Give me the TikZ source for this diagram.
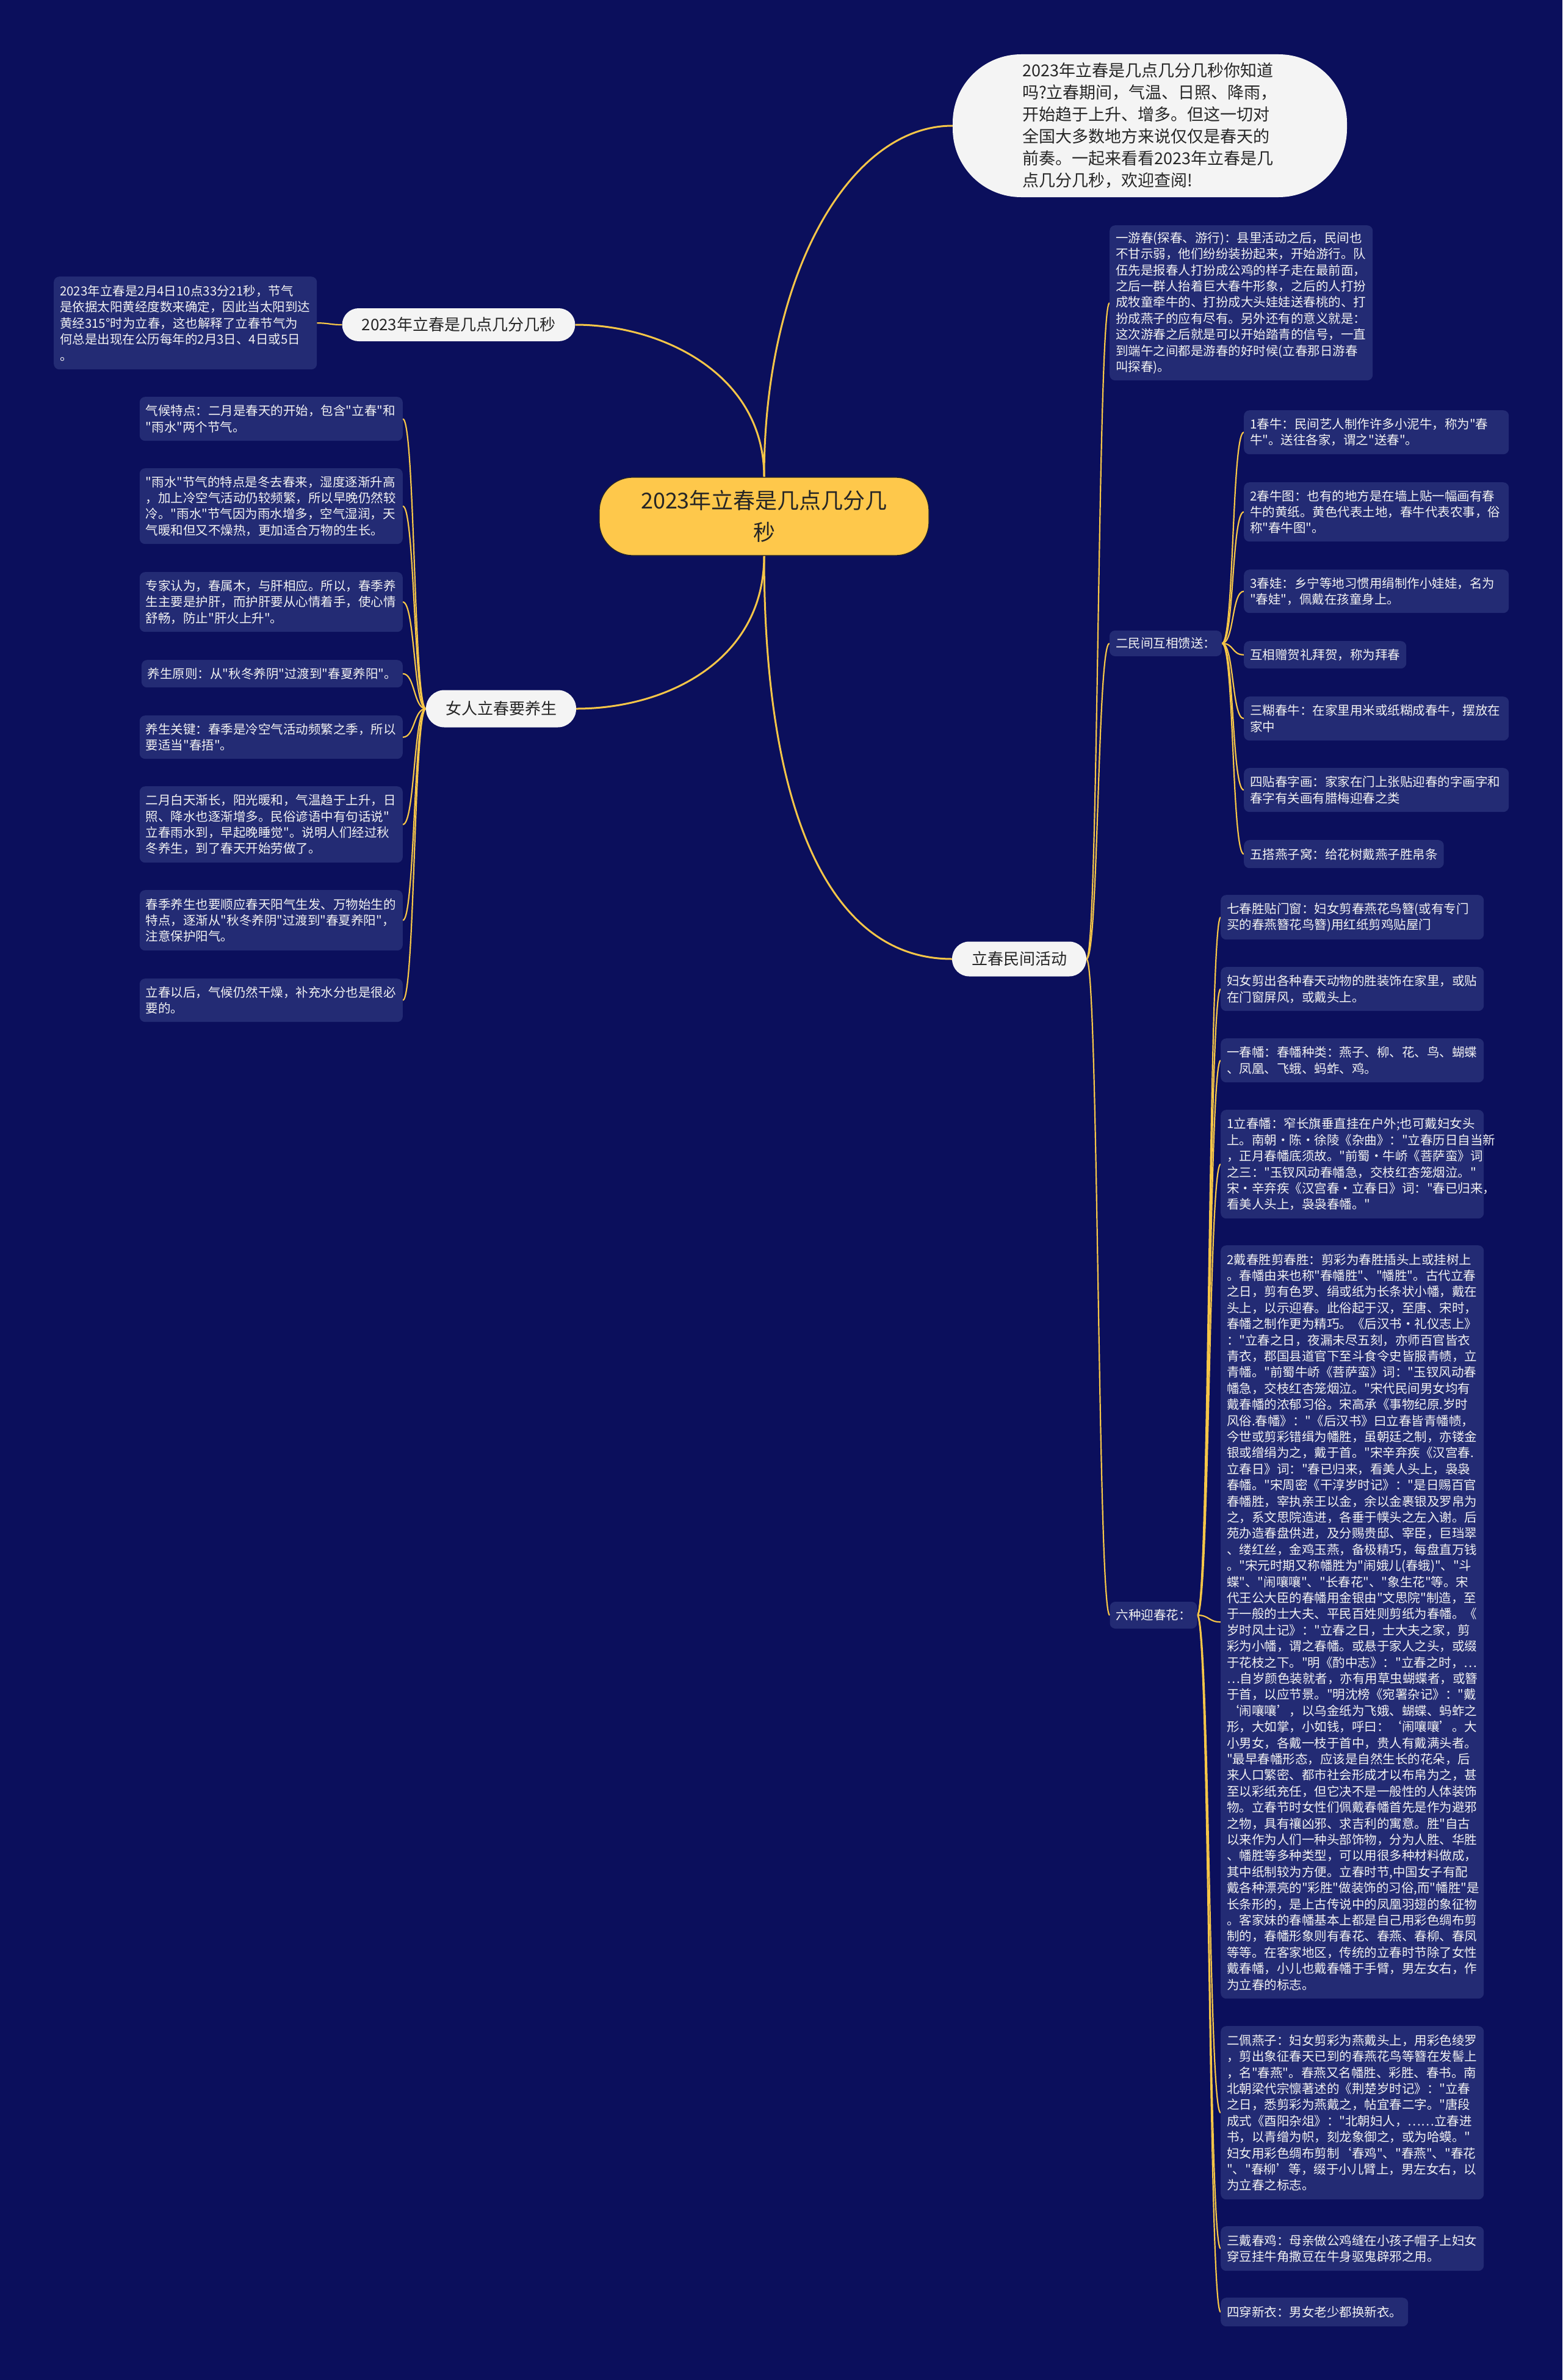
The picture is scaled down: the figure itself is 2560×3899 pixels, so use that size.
\documentclass[tikz,border=0pt]{standalone}
\usepackage{fontspec}
\setmainfont{Noto Sans CJK SC}[Ligatures=TeXOff]
\usepackage{tikz}
\usetikzlibrary{backgrounds}
\definecolor{night}{HTML}{0B0F5C}
\definecolor{slate}{HTML}{232B74}
\definecolor{gold} {HTML}{F6C648}
\definecolor{sun}  {HTML}{FEC84B}
\definecolor{pearl}{HTML}{F4F4F4}
\definecolor{coal} {HTML}{262626}
\definecolor{snow} {HTML}{F2F2F2}
\tikzset{
  leaf/.style={fill=slate,text=snow,rounded corners=9pt,inner xsep=10pt,inner ysep=0pt,
               align=left,font=\fontsize{20.5}{26.4}\selectfont},
  pill/.style={fill=pearl,text=coal,rounded corners=27pt,inner xsep=32pt,inner ysep=0pt,
               font=\fontsize{26}{32}\selectfont},
  link/.style={draw=gold,line width=2.2pt},
  trunk/.style={draw=gold,line width=3pt},
  growr/.style={to path={.. controls +(#1,0) and +(-#1,0) .. (\tikztotarget)}},
  growr/.default=20,
  growl/.style={to path={.. controls +(-#1,0) and +(#1,0) .. (\tikztotarget)}},
  growl/.default=20,
}
\begin{document}
\begin{tikzpicture}[x=1pt,y=-1pt]
  \useasboundingbox (0,0) rectangle (2560,3899);

  % centre and main branches
  \node[fill=sun,draw=coal,line width=1.2pt,text=coal,rounded corners=55pt,
        minimum width=540pt,minimum height=128pt,align=center,
        font=\fontsize{36}{52}\selectfont] (ctr) at (1252,846)
    {2023年立春是几点几分几\\秒};
  \node[fill=pearl,text=coal,rounded corners=112pt,minimum width=646pt,minimum height=234pt,
        align=left,font=\fontsize{27}{36}\selectfont] (intro) at (1884,206)
    {2023年立春是几点几分几秒你知道\\
     吗?立春期间，气温、日照、降雨，\\
     开始趋于上升、增多。但这一切对\\
     全国大多数地方来说仅仅是春天的\\
     前奏。一起来看看2023年立春是几\\
     点几分几秒，欢迎查阅!};
  \node[pill,minimum height=54pt] (q1) at (751.5,532) {2023年立春是几点几分几秒};
  \node[pill,minimum height=61pt,rounded corners=30pt] (women) at (821,1161) {女人立春要养生};
  \node[pill,minimum height=57pt,rounded corners=28pt] (act) at (1670,1571) {立春民间活动};

  \node[leaf,anchor=north west,text width=411pt,minimum height=152pt] (info) at (88,453)
    {2023年立春是2月4日10点33分21秒，节气\\
     是依据太阳黄经度数来确定，因此当太阳到达\\
     黄经315°时为立春，这也解释了立春节气为\\
     何总是出现在公历每年的2月3日、4日或5日\\
     。};

  % left branch
  \node[leaf,anchor=north east,text width=411pt,minimum height=72pt] (e1) at (660,650)
    {气候特点：二月是春天的开始，包含"立春"和\\
     "雨水"两个节气。};
  \node[leaf,anchor=north east,text width=411pt,minimum height=124pt] (e2) at (660,767)
    {"雨水"节气的特点是冬去春来，湿度逐渐升高\\
     ，加上冷空气活动仍较频繁，所以早晚仍然较\\
     冷。"雨水"节气因为雨水增多，空气湿润，天\\
     气暖和但又不燥热，更加适合万物的生长。};
  \node[leaf,anchor=north east,text width=411pt,minimum height=98pt] (e3) at (660,937)
    {专家认为，春属木，与肝相应。所以，春季养\\
     生主要是护肝，而护肝要从心情着手，使心情\\
     舒畅，防止"肝火上升"。};
  \node[leaf,anchor=north east,minimum height=45pt] (e4) at (660,1081)
    {养生原则：从"秋冬养阴"过渡到"春夏养阳"。};
  \node[leaf,anchor=north east,text width=411pt,minimum height=71pt] (e5) at (660,1172)
    {养生关键：春季是冷空气活动频繁之季，所以\\
     要适当"春捂"。};
  \node[leaf,anchor=north east,text width=411pt,minimum height=125pt] (e6) at (660,1288)
    {二月白天渐长，阳光暖和，气温趋于上升，日\\
     照、降水也逐渐增多。民俗谚语中有句话说"\\
     立春雨水到，早起晚睡觉"。说明人们经过秋\\
     冬养生，到了春天开始劳做了。};
  \node[leaf,anchor=north east,text width=411pt,minimum height=99pt] (e7) at (660,1458)
    {春季养生也要顺应春天阳气生发、万物始生的\\
     特点，逐渐从"秋冬养阴"过渡到"春夏养阳"，\\
     注意保护阳气。};
  \node[leaf,anchor=north east,text width=411pt,minimum height=71pt] (e8) at (660,1603)
    {立春以后，气候仍然干燥，补充水分也是很必\\
     要的。};

  % right branch
  \node[leaf,anchor=north west,text width=411pt,minimum height=254pt] (tour) at (1818,369)
    {一游春(探春、游行)：县里活动之后，民间也\\
     不甘示弱，他们纷纷装扮起来，开始游行。队\\
     伍先是报春人打扮成公鸡的样子走在最前面，\\
     之后一群人抬着巨大春牛形象，之后的人打扮\\
     成牧童牵牛的、打扮成大头娃娃送春桃的、打\\
     扮成燕子的应有尽有。另外还有的意义就是：\\
     这次游春之后就是可以开始踏青的信号，一直\\
     到端午之间都是游春的好时候(立春那日游春\\
     叫探春)。};
  \node[leaf,minimum height=42pt] (gift) at (1910,1054) {二民间互相馈送：};
  \node[leaf,minimum height=44pt] (six) at (1890,2646) {六种迎春花：};

  \node[leaf,anchor=north west,text width=414pt,minimum height=72pt] (c1) at (2038,672)
    {1春牛：民间艺人制作许多小泥牛，称为"春\\
     牛"。送往各家，谓之"送春"。};
  \node[leaf,anchor=north west,text width=414pt,minimum height=97pt] (c2) at (2038,790)
    {2春牛图：也有的地方是在墙上贴一幅画有春\\
     牛的黄纸。黄色代表土地，春牛代表农事，俗\\
     称"春牛图"。};
  \node[leaf,anchor=north west,text width=414pt,minimum height=71pt] (c3) at (2038,933)
    {3春娃：乡宁等地习惯用绢制作小娃娃，名为\\
     "春娃"，佩戴在孩童身上。};
  \node[leaf,anchor=north west,minimum height=45pt] (c4) at (2038,1050)
    {互相赠贺礼拜贺，称为拜春};
  \node[leaf,anchor=north west,text width=414pt,minimum height=72pt] (c5) at (2038,1141)
    {三糊春牛：在家里用米或纸糊成春牛，摆放在\\
     家中};
  \node[leaf,anchor=north west,text width=414pt,minimum height=72pt] (c6) at (2038,1258)
    {四贴春字画：家家在门上张贴迎春的字画字和\\
     春字有关画有腊梅迎春之类};
  \node[leaf,anchor=north west,minimum height=46pt] (c7) at (2038,1376)
    {五搭燕子窝：给花树戴燕子胜帛条};

  \node[leaf,anchor=north west,text width=411pt,minimum height=73pt] (d1) at (2000,1466)
    {七春胜贴门窗：妇女剪春燕花鸟簪(或有专门\\
     买的春燕簪花鸟簪)用红纸剪鸡贴屋门};
  \node[leaf,anchor=north west,text width=411pt,minimum height=72pt] (d2) at (2000,1584)
    {妇女剪出各种春天动物的胜装饰在家里，或贴\\
     在门窗屏风，或戴头上。};
  \node[leaf,anchor=north west,text width=411pt,minimum height=72pt] (d3) at (2000,1701)
    {一春幡：春幡种类：燕子、柳、花、鸟、蝴蝶\\
     、凤凰、飞蛾、蚂蚱、鸡。};
  \node[leaf,anchor=north west,text width=411pt,minimum height=178pt] (d4) at (2000,1818)
    {1立春幡：窄长旗垂直挂在户外;也可戴妇女头\\
     上。南朝·陈·徐陵《杂曲》："立春历日自当新\\
     ，正月春幡底须故。"前蜀·牛峤《菩萨蛮》词\\
     之三："玉钗风动春幡急，交枝红杏笼烟泣。"\\
     宋·辛弃疾《汉宫春·立春日》词："春已归来，\\
     看美人头上，袅袅春幡。"};
  \node[leaf,anchor=north west,text width=411pt,minimum height=1234pt] (d5) at (2000,2040)
    {2戴春胜剪春胜：剪彩为春胜插头上或挂树上\\
     。春幡由来也称"春幡胜"、"幡胜"。古代立春\\
     之日，剪有色罗、绢或纸为长条状小幡，戴在\\
     头上，以示迎春。此俗起于汉，至唐、宋时，\\
     春幡之制作更为精巧。《后汉书·礼仪志上》\\
     ："立春之日，夜漏未尽五刻，亦师百官皆衣\\
     青衣，郡国县道官下至斗食令史皆服青帻，立\\
     青幡。"前蜀牛峤《菩萨蛮》词："玉钗风动春\\
     幡急，交枝红杏笼烟泣。"宋代民间男女均有\\
     戴春幡的浓郁习俗。宋高承《事物纪原.岁时\\
     风俗.春幡》："《后汉书》曰立春皆青幡帻，\\
     今世或剪彩错缉为幡胜，虽朝廷之制，亦镂金\\
     银或缯绢为之，戴于首。"宋辛弃疾《汉宫春.\\
     立春日》词："春已归来，看美人头上，袅袅\\
     春幡。"宋周密《干淳岁时记》："是日赐百官\\
     春幡胜，宰执亲王以金，余以金裹银及罗帛为\\
     之，系文思院造进，各垂于幞头之左入谢。后\\
     苑办造春盘供进，及分赐贵邸、宰臣，巨珰翠\\
     、缕红丝，金鸡玉燕，备极精巧，每盘直万钱\\
     。"宋元时期又称幡胜为"闹娥儿(春蛾)"、"斗\\
     蝶"、"闹嚷嚷"、"长春花"、"象生花"等。宋\\
     代王公大臣的春幡用金银由"文思院"制造，至\\
     于一般的士大夫、平民百姓则剪纸为春幡。《\\
     岁时风土记》："立春之日，士大夫之家，剪\\
     彩为小幡，谓之春幡。或悬于家人之头，或缀\\
     于花枝之下。"明《酌中志》："立春之时，…\\
     …自岁颜色装就者，亦有用草虫蝴蝶者，或簪\\
     于首，以应节景。"明沈榜《宛署杂记》："戴\\
     ‘闹嚷嚷’，以乌金纸为飞娥、蝴蝶、蚂蚱之\\
     形，大如掌，小如钱，呼曰：‘闹嚷嚷’。大\\
     小男女，各戴一枝于首中，贵人有戴满头者。\\
     "最早春幡形态，应该是自然生长的花朵，后\\
     来人口繁密、都市社会形成才以布帛为之，甚\\
     至以彩纸充任，但它决不是一般性的人体装饰\\
     物。立春节时女性们佩戴春幡首先是作为避邪\\
     之物，具有禳凶邪、求吉利的寓意。胜"自古\\
     以来作为人们一种头部饰物，分为人胜、华胜\\
     、幡胜等多种类型，可以用很多种材料做成，\\
     其中纸制较为方便。立春时节,中国女子有配\\
     戴各种漂亮的"彩胜"做装饰的习俗,而"幡胜"是\\
     长条形的，是上古传说中的凤凰羽翅的象征物\\
     。客家妹的春幡基本上都是自己用彩色绸布剪\\
     制的，春幡形象则有春花、春燕、春柳、春凤\\
     等等。在客家地区，传统的立春时节除了女性\\
     戴春幡，小儿也戴春幡于手臂，男左女右，作\\
     为立春的标志。};
  \node[leaf,anchor=north west,text width=411pt,minimum height=284pt] (d6) at (2000,3319)
    {二佩燕子：妇女剪彩为燕戴头上，用彩色绫罗\\
     ，剪出象征春天已到的春燕花鸟等簪在发髻上\\
     ，名"春燕"。春燕又名幡胜、彩胜、春书。南\\
     北朝梁代宗懔著述的《荆楚岁时记》："立春\\
     之日，悉剪彩为燕戴之，帖宜春二字。"唐段\\
     成式《酉阳杂俎》："北朝妇人，……立春进\\
     书，以青缯为帜，刻龙象御之，或为哈蟆。"\\
     妇女用彩色绸布剪制‘春鸡"、"春燕"、"春花\\
     "、"春柳’等，缀于小儿臂上，男左女右，以\\
     为立春之标志。};
  \node[leaf,anchor=north west,text width=411pt,minimum height=73pt] (d7) at (2000,3647)
    {三戴春鸡：母亲做公鸡缝在小孩子帽子上妇女\\
     穿豆挂牛角撒豆在牛身驱鬼辟邪之用。};
  \node[leaf,anchor=north west,minimum height=47pt] (d8) at (2000,3764)
    {四穿新衣：男女老少都换新衣。};

  % connectors behind everything
  \begin{scope}[on background layer]
    \fill[night] (0,0) rectangle (2560,3899);
    \draw[trunk] (ctr.north) .. controls +(0,-330) and +(-170,0) .. (intro.west);
    \draw[trunk] (ctr.north) .. controls +(0,-170) and +(140,0) .. (q1.east);
    \draw[trunk] (ctr.south) .. controls +(0,170) and +(150,0) .. (women.east);
    \draw[trunk] (ctr.south) .. controls +(0,420) and +(-200,0) .. (act.west);
    \draw[link] (info.east) to[growr] (q1.west);
    \foreach \i in {1,...,8}
      \draw[link] (women.west) to[growl] (e\i.east);
    \foreach \n in {tour,gift,six}
      \draw[link] (act.east) to[growr] (\n.west);
    \foreach \i in {1,...,7}
      \draw[link] (gift.east) to[growr] (c\i.west);
    \foreach \i in {1,...,8}
      \draw[link] (six.east) to[growr] (d\i.west);
  \end{scope}
\end{tikzpicture}
\end{document}
